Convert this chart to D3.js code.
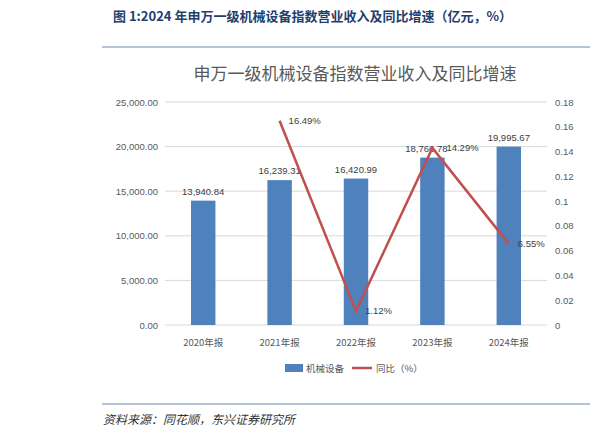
<!DOCTYPE html><html><head><meta charset="utf-8"><script src="https://cdn.jsdelivr.net/npm/d3@7"></script>
<style>body{margin:0;background:#fff}</style></head><body><svg id="c" width="605" height="440"></svg><script>
const categories=["2020年报","2021年报","2022年报","2023年报","2024年报"];
const revenue=[13940.84,16239.31,16420.99,18766.78,19995.67];
const revenueLabels=["13,940.84","16,239.31","16,420.99","18,766.78","19,995.67"];
const growth=[null,0.1649,0.0112,0.1429,0.0655];
const growthLabels=["","16.49%","1.12%","14.29%","6.55%"];
const leftTicks=[0,5000,10000,15000,20000,25000];
const rightTicks=[0,0.02,0.04,0.06,0.08,0.1,0.12,0.14,0.16,0.18];
const svg=d3.select("#c");const F="'Noto Sans CJK SC',sans-serif";const N="'Liberation Sans Narrow',sans-serif";
svg.append("text").attr("x",113).attr("y",21).attr("font-family",F).attr("font-weight","bold").attr("font-size",13).attr("fill","#1f3f6e").text("图 1:2024 年申万一级机械设备指数营业收入及同比增速（亿元，%）");
svg.append("line").attr("x1",102).attr("x2",590).attr("y1",47).attr("y2",47).attr("stroke","#6b89ad").attr("stroke-width",1);
svg.append("text").attr("x",355).attr("y",80).attr("text-anchor","middle").attr("font-family",F).attr("font-size",17).attr("fill","#595959").text("申万一级机械设备指数营业收入及同比增速");
const x=d3.scaleBand().domain(categories).range([165,547]).paddingInner(0.68).paddingOuter(0.34);
const yl=d3.scaleLinear().domain([0,25000]).range([325,102]);
const yr=d3.scaleLinear().domain([0,0.18]).range([325,102]);
const g=svg.append("g");
g.selectAll(".gl").data(leftTicks).join("line").attr("x1",165).attr("x2",547).attr("y1",d=>yl(d)).attr("y2",d=>yl(d)).attr("stroke","#d9d9d9");
const fs=9.5,tc="#595959";
g.selectAll(".lt").data(leftTicks).join("text").attr("x",158).attr("y",d=>yl(d)+3.5).attr("text-anchor","end").attr("font-family",N).attr("font-size",fs).attr("fill",tc).text(d=>d3.format(",.2f")(d));
g.selectAll(".rt").data(rightTicks).join("text").attr("x",555).attr("y",d=>yr(d)+3.5).attr("font-family",N).attr("font-size",fs).attr("fill",tc).text(d=>d3.format("")(+d.toFixed(2)));
g.selectAll(".ct").data(categories).join("text").attr("x",d=>x(d)+x.bandwidth()/2).attr("y",346).attr("text-anchor","middle").attr("font-family",F).attr("font-size",9.5).attr("fill",tc).text(d=>d);
g.selectAll(".bar").data(revenue).join("rect").attr("x",(d,i)=>x(categories[i])).attr("width",x.bandwidth()).attr("y",d=>yl(d)).attr("height",d=>325-yl(d)).attr("fill","#4f81bd");
g.selectAll(".bl").data(revenue).join("text").attr("x",(d,i)=>x(categories[i])+x.bandwidth()/2-(i==3?6:0)).attr("y",d=>yl(d)-6).attr("text-anchor","middle").attr("font-family",N).attr("font-size",9.5).attr("fill","#404040").text((d,i)=>revenueLabels[i]);
const pts=growth.map((v,i)=>[v,i]).filter(p=>p[0]!=null);
g.append("path").attr("d",d3.line().x(p=>x(categories[p[1]])+x.bandwidth()/2).y(p=>yr(p[0]))(pts)).attr("fill","none").attr("stroke","#c0504d").attr("stroke-width",2.5);
g.selectAll(".gl2").data(pts).join("text").attr("x",p=>x(categories[p[1]])+x.bandwidth()/2+(p[1]==3?14:9)).attr("y",p=>yr(p[0])+3).attr("font-family",N).attr("font-size",9.5).attr("fill","#404040").text(p=>growthLabels[p[1]]);
svg.append("rect").attr("x",285).attr("y",364).attr("width",18).attr("height",8).attr("fill","#4f81bd");
svg.append("text").attr("x",306).attr("y",372).attr("font-family",F).attr("font-size",9.5).attr("fill",tc).text("机械设备");
svg.append("line").attr("x1",352).attr("x2",372).attr("y1",368).attr("y2",368).attr("stroke","#c0504d").attr("stroke-width",2.5);
svg.append("text").attr("x",376).attr("y",372).attr("font-family",F).attr("font-size",9.5).attr("fill",tc).text("同比（%）");
svg.append("line").attr("x1",102).attr("x2",590).attr("y1",404).attr("y2",404).attr("stroke","#6b89ad");
svg.append("text").attr("x",103).attr("y",424).attr("font-family",F).attr("font-style","italic").attr("font-size",12).attr("fill","#333").text("资料来源：同花顺，东兴证券研究所");
</script></body></html>
